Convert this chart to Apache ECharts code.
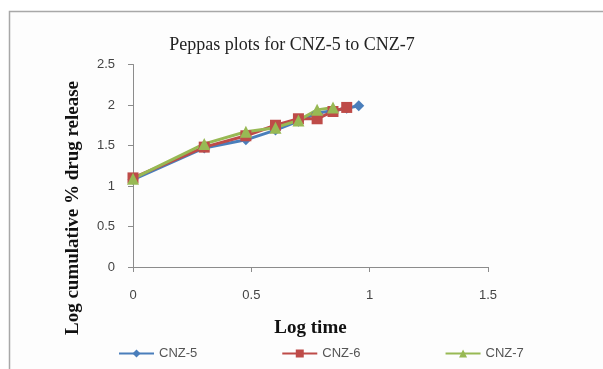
<!DOCTYPE html>
<html>
<head>
<meta charset="utf-8">
<script src="https://cdn.jsdelivr.net/npm/echarts@6/dist/echarts.min.js"></script>
<style>
  html, body { margin: 0; padding: 0; background: #fff; }
  #chart { width: 603px; height: 369px; }
</style>
</head>
<body>
<div id="chart"></div>
<script>
// Log of sampling time (hours 1..9)
const logTime = [0, 0.301, 0.477, 0.602, 0.699, 0.778, 0.845, 0.903, 0.954];

// Log cumulative % drug release for each formulation
const cnz5 = [1.08, 1.47, 1.57, 1.69, 1.80, 1.90, 1.93, 1.96, 1.99];
const cnz6 = [1.10, 1.48, 1.62, 1.75, 1.83, 1.83, 1.92, 1.97];
const cnz7 = [1.09, 1.52, 1.67, 1.72, 1.81, 1.94, 1.97];

const seriesNames = ['CNZ-5', 'CNZ-6', 'CNZ-7'];
const xTicks = [0, 0.5, 1, 1.5];
const yTicks = [0, 0.5, 1, 1.5, 2, 2.5];
const yTitle = 'Log cumulative % drug release';

const pairs = (ys) => ys.map((y, i) => [logTime[i], y]);

const chart = echarts.init(document.getElementById('chart'), null, { renderer: 'canvas' });

const serif = '"Liberation Serif", "DejaVu Serif", serif';
const sans = '"Liberation Sans", "Open Sans", sans-serif';

chart.setOption({
  backgroundColor: '#ffffff',
  animation: false,
  graphic: [
    {
      type: 'rect',
      shape: { x: 9.5, y: 11.5, width: 620, height: 380 },
      style: { fill: '#fdfdfd', stroke: '#a8a8a8', lineWidth: 1.5 },
      z: -10
    },
    {
      // vertical axis title, set a little below the plot centre
      type: 'text',
      x: 73, y: 208, rotation: Math.PI / 2,
      style: {
        text: yTitle, fontFamily: serif, fontSize: 19, fontWeight: 'bold',
        fill: '#111', align: 'center', verticalAlign: 'middle'
      }
    }
  ],
  title: {
    text: 'Peppas plots for CNZ-5 to CNZ-7',
    left: 287, top: 31, textAlign: 'center',
    textStyle: { fontFamily: serif, fontSize: 18, fontWeight: 'normal', color: '#222' }
  },
  legend: {
    top: 342, left: 113,
    itemGap: 84, itemWidth: 35, itemHeight: 10,
    data: seriesNames,
    textStyle: { fontFamily: sans, fontSize: 13, color: '#555' }
  },
  grid: { left: 133, right: 115, top: 64.5, bottom: 102, containLabel: false },
  xAxis: {
    type: 'value', min: 0, max: 1.5, interval: 0.5,
    name: 'Log time', nameLocation: 'middle', nameGap: 52,
    nameTextStyle: { fontFamily: serif, fontSize: 19, fontWeight: 'bold', color: '#111' },
    axisLine: { show: true, lineStyle: { color: '#8c8c8c', width: 1 } },
    axisTick: { show: true, length: 5, lineStyle: { color: '#8c8c8c' } },
    axisLabel: { margin: 22, fontFamily: sans, fontSize: 13, color: '#444',
      formatter: v => xTicks.includes(v) ? String(v) : '' },
    splitLine: { show: false }
  },
  yAxis: {
    type: 'value', min: 0, max: 2.5, interval: 0.5,
    axisLine: { show: true, lineStyle: { color: '#8c8c8c', width: 1 } },
    axisTick: { show: true, length: 5, lineStyle: { color: '#8c8c8c' } },
    axisLabel: { margin: 18, fontFamily: sans, fontSize: 13, color: '#444',
      formatter: v => yTicks.includes(v) ? String(v) : '' },
    splitLine: { show: false }
  },
  series: [
    { name: seriesNames[0], type: 'line', data: pairs(cnz5), color: '#4a7ebb',
      symbol: 'diamond', symbolSize: 11, lineStyle: { width: 3 } },
    { name: seriesNames[1], type: 'line', data: pairs(cnz6), color: '#be4b48',
      symbol: 'rect', symbolSize: 11, lineStyle: { width: 3 } },
    { name: seriesNames[2], type: 'line', data: pairs(cnz7), color: '#98b954',
      symbol: 'triangle', symbolSize: 12, lineStyle: { width: 3 } }
  ]
});
</script>
</body>
</html>
